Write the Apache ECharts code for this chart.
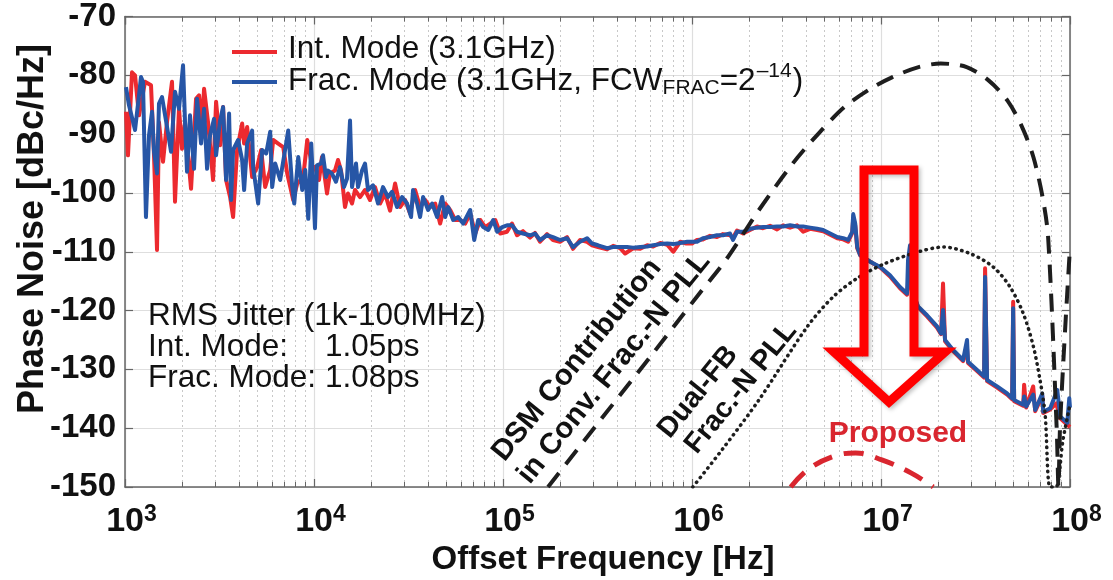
<!DOCTYPE html>
<html>
<head>
<meta charset="utf-8">
<script src="https://cdn.jsdelivr.net/npm/echarts@6/dist/echarts.min.js"></script>
<style>
html, body { margin: 0; padding: 0; background: #fff; }
#chart { width: 1113px; height: 580px; }
</style>
</head>
<body>
<div id="chart"></div>
<script>
// measured phase noise, [offset Hz, dBc/Hz]
const intMode = [
  [1012,-86.2],[1037,-93.6],[1089,-79.5],[1130,-80],[1186,-86.8],[1276,-81.1],[1373,-81.7],[1424,-93.6],
  [1477,-109.7],[1513,-88],[1589,-94.7],[1668,-88],[1773,-81.1],[1839,-101.5],[1931,-85.7],[2003,-92.5],
  [2078,-88],[2236,-99.3],[2376,-84],[2465,-83.4],[2557,-88.5],[2620,-82.3],[2751,-88],[2924,-97.8],
  [3033,-84.5],[3184,-91.9],[3303,-85.4],[3427,-97.8],[3598,-100.7],[3732,-104.1],[3919,-92.7],[4166,-88.2],
  [4269,-91.6],[4428,-88.8],[4706,-97.3],[5003,-95.6],[5253,-92.7],[5516,-99],[5863,-96.1],[6082,-91],
  [6465,-91.6],[6872,-92.2],[7216,-96.7],[7764,-101.2],[8153,-98.4],[8772,-97.3],[9211,-91],[9790,-95.6],
  [10120,-95.6],[10630,-97.8],[11020,-93.9],[11720,-100.1],[12150,-96.7],[12910,-96.2],[13400,-94.4],[13900,-96.2],
  [14590,-102.4],[15130,-100.1],[15890,-101.8],[16480,-99.5],[17520,-100.7],[18620,-99.5],[19790,-101.2],[21030,-99],
  [22360,-101.8],[23760,-100.1],[25260,-103],[26850,-98.4],[28530,-102.4],[30330,-101.2],[32240,-103.5],[34270,-99.5],
  [36420,-102.4],[38720,-101.2],[41150,-102.4],[43740,-101.8],[46490,-105.2],[49420,-101.8],[52530,-102.9],[55840,-104.6],
  [59350,-104.6],[63080,-105.2],[67060,-103.5],[71290,-106.9],[75770,-104.6],[80540,-105.8],[85610,-105.2],[91000,-104.6],
  [96720,-106.9],[105000,-106.6],[111600,-105.2],[118600,-107.2],[127600,-106.5],[139000,-107.6],[147700,-106.8],[157000,-108.3],
  [171000,-107],[183900,-108],[200300,-108.3],[218200,-107.5],[234700,-109.5],[255700,-108],[278500,-108.3],[296000,-108.9],
  [318400,-109.2],[355400,-109.6],[382500,-109],[416600,-109.4],[442800,-110.3],[488200,-109.4],[532000,-109.5],[579200,-108.9],
  [623200,-109.1],[679000,-108.5],[739400,-108.8],[795600,-110],[866400,-108.3],[932500,-108.6],
  [1000000,-108.6],[1063000,-108],[1143000,-107.9],[1245000,-107.3],[1356000,-107.5],[1459000,-107],[1589000,-107.2],[1648000,-107.6],
  [1731000,-106.4],[1862000,-106.9],[2028000,-106.3],[2208000,-105.7],[2376000,-106],[2588000,-105.6],[2819000,-106.2],[3033000,-105.5],
  [3303000,-105.9],[3598000,-105.5],[3872000,-106.6],[4217000,-106.1],[4593000,-106.3],[4943000,-106.5],[5383000,-107.1],[5863000,-107.7],
  [6309000,-107.9],[6706000,-108.3],[7042000,-106.8],[7129000,-104.3],[7304000,-105.5],[7485000,-109.4],[7764000,-110.6],[8772000,-111.7],
  [9911000,-112.7],[11160000,-114.2],[12600000,-116.2],[13730000,-117.3],[14070000,-114],[14590000,-116.7],[15700000,-119.4],[17520000,-121],
  [19790000,-122.9],[20780000,-124],[21290000,-115.4],[21820000,-125.2],[24060000,-126.9],[27180000,-128.6],[28530000,-126.5],[28880000,-128.9],
  [32240000,-130.3],[35110000,-131.4],[35540000,-112.8],[36420000,-132],[41150000,-133.1],[46490000,-134.3],[49420000,-135.1],[50030000,-118.5],
  [50650000,-135.4],[56520000,-136.2],[57180000,-132.6],[58630000,-136.5],[63860000,-132.9],[65440000,-137.1],[71290000,-134.5],[72160000,-137.4],
  [78600000,-136.8],[84570000,-135.8],[88800000,-138.3],[96720000,-139.4],[100000000,-139.8]
];
const fracMode = [
  [1012,-82],[1050,-85.1],[1130,-89.3],[1186,-83.4],[1215,-80.3],[1245,-81.1],[1291,-104.1],[1340,-90.2],
  [1390,-86.2],[1424,-93],[1477,-96.7],[1513,-84.8],[1570,-83.7],[1648,-87.7],[1752,-93],[1839,-82.8],
  [1931,-85.7],[2028,-78.3],[2078,-88],[2129,-96.4],[2208,-86.8],[2319,-95.9],[2406,-84],[2526,-91.6],
  [2620,-85.7],[2718,-95.9],[2819,-90.2],[2960,-87.4],[3033,-93.6],[3184,-87.7],[3303,-85.4],[3427,-97.8],
  [3554,-86.5],[3642,-101.2],[3732,-92.7],[3967,-91],[4166,-94.4],[4269,-99.5],[4428,-91.6],[4706,-89.4],
  [4764,-95.6],[5064,-101.8],[5318,-92.7],[5584,-93.3],[5863,-89.6],[6008,-99],[6232,-95],[6624,-97.8],
  [7304,-89.4],[7670,-99],[7860,-101.8],[8253,-93.9],[8666,-99.5],[8989,-96.1],[9325,-104.4],[9672,-91.6],
  [10120,-106],[10370,-95.3],[10890,-95],[11160,-93.6],[11570,-97.3],[11860,-96.2],[12450,-96.7],[13070,-98.1],
  [13730,-95.6],[14410,-99],[14950,-97.6],[15510,-87.7],[15890,-99],[16680,-95],[17100,-99],[17950,-96.2],
  [18620,-95],[19310,-99.5],[20530,-98.7],[21820,-101.8],[23190,-99],[24650,-100.7],[25880,-99.8],[27510,-102.4],
  [29240,-100.7],[31080,-101.8],[32630,-104.1],[33430,-99.5],[35110,-101.8],[36420,-104.1],[37780,-100.7],[40160,-102.9],
  [42170,-101.8],[44820,-104.1],[47640,-100.7],[49420,-104.1],[51260,-102.4],[54490,-104.6],[57920,-104.1],[61560,-105.2],
  [67060,-102.9],[70420,-108],[73940,-104.6],[78600,-105.8],[83540,-106.3],[88800,-104.6],[93250,-106.6],[99110,-105.8],
  [105000,-105.5],[111600,-105.5],[118600,-106.6],[127600,-106.9],[139000,-107.2],[147700,-106.9],[157000,-108],[171000,-107.2],
  [183900,-107.5],[200300,-108],[218200,-107.7],[234700,-109.2],[255700,-108.3],[278500,-107.7],[296000,-108.6],[318400,-108.9],
  [355400,-109.4],[382500,-109.2],[416600,-109.2],[453700,-109.2],[488200,-109.3],[532000,-109.2],[579200,-109.1],[623200,-108.9],
  [679000,-108.7],[739400,-108.6],[795600,-108.7],[866400,-108.5],[943900,-108.3],
  [1012000,-108.3],[1063000,-108.3],[1143000,-107.7],[1245000,-107.5],[1356000,-107.2],[1459000,-107.2],[1589000,-106.9],[1648000,-108],
  [1731000,-106.6],[1862000,-106.6],[2028000,-106.1],[2208000,-105.9],[2376000,-105.8],[2588000,-105.8],[2819000,-105.7],[3033000,-105.7],
  [3303000,-105.5],[3598000,-105.7],[3872000,-105.7],[4217000,-105.9],[4593000,-106.1],[4943000,-106.3],[5383000,-106.9],[5863000,-107.5],
  [6309000,-107.7],[6706000,-108],[7042000,-106.6],[7129000,-103.6],[7304000,-105.2],[7485000,-109.2],[7764000,-110.6],[8772000,-111.7],
  [9911000,-112.6],[11160000,-114],[12600000,-116],[13730000,-117.1],[13900000,-111.4],[14240000,-108.9],[14590000,-116.5],[15700000,-119.3],
  [17520000,-120.8],[19790000,-122.7],[20780000,-123.9],[21290000,-119.9],[21820000,-125],[24060000,-126.7],[27180000,-128.4],[28530000,-125],
  [28880000,-128.7],[32240000,-130.1],[35110000,-131.2],[35540000,-114.3],[36420000,-131.8],[41150000,-132.9],[46490000,-134.1],[49420000,-134.9],
  [50030000,-119.6],[50650000,-135.2],[56520000,-136],[57180000,-134.6],[58630000,-136.3],[63860000,-134.3],[65440000,-136.9],[71290000,-134.1],
  [72160000,-137.2],[78600000,-136.6],[85610000,-133.5],[88800000,-138],[96720000,-139.1],[99110000,-134.9],[100000000,-136.5]
];
// DSM noise of a conventional frac-N PLL (dashed)
const dsmConv = [
  [173000,-150],[326000,-138.7],[600000,-127.9],[1100000,-117],[1510000,-111.4],[2260000,-102.9],[3410000,-95],[4670000,-89.9],
  [6400000,-85.4],[8790000,-82.3],[11500000,-80.3],[15800000,-78.6],[20700000,-78],[28400000,-78.6],[37200000,-80.9],[46700000,-84.3],
  [55800000,-88.8],[64000000,-93.9],[71600000,-100.7],[76600000,-107.5],[85100000,-140.3],[86900000,-150],[88500000,-140],
  [94200000,-123.3],[100000000,-109.2]
];
// dual-feedback frac-N PLL (dotted)
const dualFb = [
  [1010000,-150],[1440000,-143.7],[2260000,-135.2],[4060000,-122.8],[5570000,-117.7],[7650000,-114.3],[10500000,-112],[15800000,-110],
  [21400000,-109.2],[29600000,-110.3],[39300000,-112.6],[48200000,-116],[56600000,-120.5],[64000000,-126.1],[69400000,-131.8],[73800000,-137.5],
  [78400000,-150],[84300000,-150],[91800000,-142],[100000000,-136]
];
// proposed (red dashed)
const proposed = [
  [3330000,-150],[4080000,-147.1],[5590000,-144.8],[7340000,-144.2],[10100000,-145.4],[14400000,-147.6],[18900000,-150]
];
const yTicks = [-150, -70, 10]; // min, max, step
const decades = [1e3, 1e4, 1e5, 1e6, 1e7];
const legendNames = ['Int. Mode (3.1GHz)', 'Frac. Mode (3.1GHz, FCW'];

const FONT = '"Liberation Sans", Arial, Helvetica, sans-serif';
const AXIS = '#666';
const RED = '#ec2a2f';
const BLUE = '#2756a6';

// minor log positions 2..9 per decade
const minorVals = [], minorLog = [];
decades.forEach(d => {
  for (let k = 2; k <= 9; k++) {
    minorVals.push(d * k);
    minorLog.push(Math.log10(d * k));
  }
});

const ctx = document.createElement('canvas').getContext('2d');
function textW(t, size, weight) {
  ctx.font = (weight || 'normal') + ' ' + size + 'px ' + FONT;
  return ctx.measureText(t).width;
}

function txt(x, y, text, size, opts) {
  opts = opts || {};
  return {
    type: 'text', x: x, y: y, rotation: opts.rotation || 0, z: 100,
    style: {
      text: text, fontSize: size, fontFamily: FONT, fontWeight: opts.weight || 'normal',
      fill: opts.color || '#111', align: opts.align || 'left', verticalAlign: 'middle'
    }
  };
}

// legend, second entry built from sub/superscript pieces
const LF = 31.5, LS = 21;
let lx = 288;
const legendEls = [
  { type: 'line', z: 100, shape: { x1: 232, y1: 52, x2: 277, y2: 52 }, style: { stroke: RED, lineWidth: 4 } },
  { type: 'line', z: 100, shape: { x1: 232, y1: 82, x2: 277, y2: 82 }, style: { stroke: BLUE, lineWidth: 4 } },
  txt(288, 49, legendNames[0], LF)
];
legendEls.push(txt(lx, 81, legendNames[1], LF)); lx += textW(legendNames[1], LF);
legendEls.push(txt(lx, 88, 'FRAC', LS)); lx += textW('FRAC', LS);
legendEls.push(txt(lx, 81, '=2', LF)); lx += textW('=2', LF);
legendEls.push(txt(lx + 1, 71, '\u201314', LS)); lx += textW('\u201314', LS) + 2;
legendEls.push(txt(lx, 81, ')', LF));

const ROT = 51 * Math.PI / 180;

const option = {
  animation: false,
  backgroundColor: '#fff',
  grid: { left: 125, right: 43, top: 16, bottom: 93 },
  xAxis: [
    {
      type: 'log', logBase: 10, min: 1e3, max: 1e8, position: 'bottom',
      axisLine: { show: true, lineStyle: { color: AXIS, width: 1.5 } },
      axisTick: { show: true, inside: true, length: 8, lineStyle: { color: AXIS, width: 1.2 } },
      splitLine: { show: true, lineStyle: { color: '#dedede', width: 1.2 } },
      axisLabel: {
        margin: 16, showMinLabel: true, showMaxLabel: true,
        formatter: v => '{p|}{b|10}{s|' + Math.round(Math.log10(v)) + '}',
        rich: {
          p: { width: 13 },
          b: { fontSize: 34, fontWeight: 'bold', fontFamily: FONT, color: '#111', lineHeight: 36, verticalAlign: 'bottom' },
          s: { fontSize: 23, fontWeight: 'bold', fontFamily: FONT, color: '#111', lineHeight: 20, verticalAlign: 'top' }
        }
      }
    },
    {
      type: 'log', logBase: 10, min: 1e3, max: 1e8, position: 'top',
      axisLine: { show: true, lineStyle: { color: AXIS, width: 1.5 } },
      axisTick: { show: true, inside: true, length: 8, lineStyle: { color: AXIS, width: 1.2 } },
      splitLine: { show: false }, axisLabel: { show: false }
    },
    {
      type: 'value', min: 3, max: 8, position: 'bottom',
      axisLine: { show: false }, axisLabel: { show: false },
      axisTick: { show: true, inside: true, length: 5, customValues: minorLog, lineStyle: { color: AXIS, width: 1 } },
      splitLine: { show: false }
    },
    {
      type: 'value', min: 3, max: 8, position: 'top',
      axisLine: { show: false }, axisLabel: { show: false },
      axisTick: { show: true, inside: true, length: 5, customValues: minorLog, lineStyle: { color: AXIS, width: 1 } },
      splitLine: { show: false }
    }
  ],
  yAxis: [
    {
      type: 'value', min: yTicks[0], max: yTicks[1], interval: yTicks[2], position: 'left',
      axisLine: { show: true, lineStyle: { color: AXIS, width: 1.5 } },
      axisTick: { show: true, inside: true, length: 8, lineStyle: { color: AXIS, width: 1.2 } },
      splitLine: { show: true, lineStyle: { color: '#dedede', width: 1.2 } },
      axisLabel: { margin: 9, fontSize: 33, fontWeight: 'bold', fontFamily: FONT, color: '#111' }
    },
    {
      type: 'value', min: yTicks[0], max: yTicks[1], interval: yTicks[2], position: 'right',
      axisLine: { show: true, lineStyle: { color: AXIS, width: 1.5 } },
      axisTick: { show: true, inside: true, length: 8, lineStyle: { color: AXIS, width: 1.2 } },
      splitLine: { show: false }, axisLabel: { show: false }
    }
  ],
  series: [
    {
      name: 'minorGrid', type: 'line', data: [], z: 0, zlevel: 0, silent: true,
      markLine: {
        silent: true, symbol: 'none', label: { show: false }, animation: false, z: 0,
        lineStyle: { color: '#c8c8c8', width: 1, type: [2, 3] },
        data: minorVals.map(v => ({ xAxis: v }))
      }
    },
    {
      name: 'int', type: 'line', data: intMode, showSymbol: false, symbol: 'none', z: 3,
      lineStyle: { color: RED, width: 4, join: 'round' }
    },
    {
      name: 'frac', type: 'line', data: fracMode, showSymbol: false, symbol: 'none', z: 4,
      lineStyle: { color: BLUE, width: 4, join: 'round' }
    },
    {
      name: 'dsm', type: 'line', data: dsmConv, smooth: 0.3, showSymbol: false, symbol: 'none', z: 5,
      lineStyle: { color: '#1e1e1e', width: 4, type: [18, 11] }
    },
    {
      name: 'dual', type: 'line', data: dualFb, smooth: 0.3, showSymbol: false, symbol: 'none', z: 5,
      lineStyle: { color: '#1e1e1e', width: 3.5, type: [0.5, 5.5], cap: 'round' }
    },
    {
      name: 'proposed', type: 'line', data: proposed, smooth: 0.4, showSymbol: false, symbol: 'none', z: 5,
      lineStyle: { color: '#d9262f', width: 5, type: [20, 12] }
    }
  ],
  graphic: {
    elements: legendEls.concat([
      txt(148, 316, 'RMS Jitter (1k-100MHz)', 31.5),
      txt(148, 347, 'Int. Mode:', 31.5),
      txt(325, 347, '1.05ps', 31.5),
      txt(148, 378, 'Frac. Mode:', 31.5),
      txt(325, 378, '1.08ps', 31.5),
      txt(577, 360, 'DSM Contribution', 29.5, { weight: 'bold', align: 'center', rotation: ROT }),
      txt(614, 368, 'in Conv. Frac.-N PLL', 29.5, { weight: 'bold', align: 'center', rotation: ROT }),
      txt(698, 392, 'Dual-FB', 28.5, { weight: 'bold', align: 'center', rotation: ROT }),
      txt(741, 388, 'Frac.-N PLL', 28.5, { weight: 'bold', align: 'center', rotation: ROT }),
      txt(898, 434, 'Proposed', 30, { weight: 'bold', align: 'center', color: '#d9262f' }),
      txt(603, 560, 'Offset Frequency [Hz]', 33, { weight: 'bold', align: 'center' }),
      txt(33, 229, 'Phase Noise [dBc/Hz]', 36, { weight: 'bold', align: 'center', rotation: Math.PI / 2 }),
      {
        type: 'polygon', z: 110,
        shape: { points: [[864, 170], [914, 170], [914, 352], [945, 352], [889, 402], [834, 352], [864, 352]] },
        style: {
          fill: 'none', stroke: '#ff0000', lineWidth: 9, lineJoin: 'miter',
          shadowBlur: 4, shadowColor: 'rgba(0,0,0,0.25)', shadowOffsetX: 2, shadowOffsetY: 2
        }
      }
    ])
  }
};

const chart = echarts.init(document.getElementById('chart'), null, { renderer: 'canvas' });
chart.setOption(option);
</script>
</body>
</html>
